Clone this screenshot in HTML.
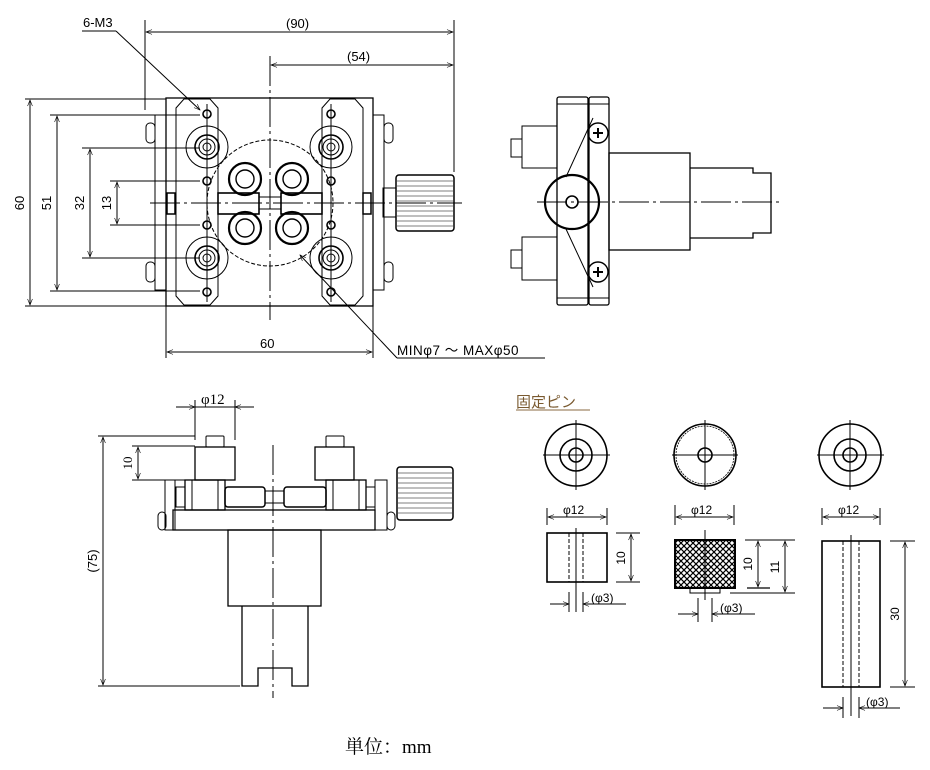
<!DOCTYPE html>
<html><head><meta charset="utf-8"><style>
html,body{margin:0;padding:0;background:#fff;}
svg{display:block;}
text{font-family:"Liberation Sans","Noto Sans CJK JP",sans-serif;fill:#000;}
</style></head><body>
<svg width="930" height="770" viewBox="0 0 930 770" xmlns="http://www.w3.org/2000/svg">
<defs>
<marker id="a" viewBox="0 0 10 10" refX="10" refY="5" markerWidth="10" markerHeight="6" orient="auto-start-reverse" markerUnits="userSpaceOnUse"><path d="M0,1 L10,5 L0,9" fill="none" stroke="#000" stroke-width="1"/></marker>
</defs>
<g fill="none" stroke="#000" stroke-width="1">
<line x1="145" y1="20" x2="145" y2="110"/>
<line x1="454" y1="20" x2="454" y2="172"/>
<line x1="146" y1="32" x2="453" y2="32" marker-start="url(#a)" marker-end="url(#a)"/>
<line x1="270" y1="56" x2="270" y2="320" stroke-dasharray="30 4 3 4"/>
<line x1="271" y1="65" x2="453" y2="65" marker-start="url(#a)" marker-end="url(#a)"/>
<line x1="82" y1="31" x2="116" y2="31"/>
<line x1="116" y1="31" x2="200" y2="110" marker-end="url(#a)"/>
<line x1="25" y1="99" x2="166" y2="99"/>
<line x1="25" y1="306" x2="166" y2="306"/>
<line x1="30" y1="100" x2="30" y2="305" marker-start="url(#a)" marker-end="url(#a)"/>
<line x1="50" y1="115" x2="200" y2="115"/>
<line x1="50" y1="291" x2="200" y2="291"/>
<line x1="57" y1="116" x2="57" y2="290" marker-start="url(#a)" marker-end="url(#a)"/>
<line x1="82" y1="148" x2="200" y2="148"/>
<line x1="82" y1="258" x2="200" y2="258"/>
<line x1="90" y1="149" x2="90" y2="257" marker-start="url(#a)" marker-end="url(#a)"/>
<line x1="110" y1="181" x2="200" y2="181"/>
<line x1="110" y1="225" x2="200" y2="225"/>
<line x1="117" y1="182" x2="117" y2="224" marker-start="url(#a)" marker-end="url(#a)"/>
<line x1="166" y1="306" x2="166" y2="358"/>
<line x1="373" y1="306" x2="373" y2="358"/>
<line x1="167" y1="352" x2="372" y2="352" marker-start="url(#a)" marker-end="url(#a)"/>
<line x1="397" y1="358" x2="545" y2="358"/>
<line x1="397" y1="358" x2="300" y2="255" marker-end="url(#a)"/>
<rect x="166" y="98" width="207" height="208" stroke-width="1.3"/>
<path d="M176,108 L184,99 L210,99 L218,108 L218,296 L210,305 L184,305 L176,296 Z"/>
<path d="M322,108 L330,99 L355,99 L363,108 L363,296 L355,305 L330,305 L322,296 Z"/>
<rect x="155" y="115" width="11" height="175"/>
<rect x="373" y="115" width="11" height="175"/>
<rect x="146" y="123" width="9" height="20" rx="4"/>
<rect x="146" y="262" width="9" height="20" rx="4"/>
<rect x="384" y="123" width="9" height="20" rx="4"/>
<rect x="384" y="262" width="9" height="20" rx="4"/>
<rect x="167" y="193" width="8" height="21" stroke-width="1.5"/>
<rect x="363" y="193" width="8" height="21" stroke-width="1.5"/>
<rect x="383" y="188" width="13" height="29"/>
<rect x="396" y="175" width="58" height="56" rx="3" stroke-width="1.5"/>
<path d="M397,181H453M397,186H453M397,191H453M397,196H453M397,201H453M397,206H453M397,211H453M397,216H453M397,221H453M397,226H453" stroke-width="0.7" stroke="#555"/>
<circle cx="270" cy="203" r="63" stroke-dasharray="4 2"/>
<line x1="150" y1="203" x2="462" y2="203" stroke-dasharray="30 4 3 4"/>
<rect x="218" y="193" width="41" height="21" stroke-width="1.6"/>
<rect x="281" y="193" width="41" height="21" stroke-width="1.6"/>
<rect x="259" y="197" width="22" height="12"/>
<g stroke-width="2.2">
<circle cx="245" cy="179" r="16"/><circle cx="292" cy="179" r="16"/>
<circle cx="245" cy="228" r="16"/><circle cx="292" cy="228" r="16"/>
</g>
<g stroke-width="1.4">
<circle cx="245" cy="179" r="9"/><circle cx="292" cy="179" r="9"/>
<circle cx="245" cy="228" r="9"/><circle cx="292" cy="228" r="9"/>
</g>
<g>
<circle cx="207" cy="147" r="21"/><circle cx="207" cy="147" r="12" stroke-width="1.6"/><circle cx="207" cy="147" r="8"/><circle cx="207" cy="147" r="4"/>
<circle cx="207" cy="258" r="21"/><circle cx="207" cy="258" r="12" stroke-width="1.6"/><circle cx="207" cy="258" r="8"/><circle cx="207" cy="258" r="4"/>
<circle cx="331" cy="147" r="21"/><circle cx="331" cy="147" r="12" stroke-width="1.6"/><circle cx="331" cy="147" r="8"/><circle cx="331" cy="147" r="4"/>
<circle cx="331" cy="258" r="21"/><circle cx="331" cy="258" r="12" stroke-width="1.6"/><circle cx="331" cy="258" r="8"/><circle cx="331" cy="258" r="4"/>
</g>
<g stroke-width="1.6">
<circle cx="207" cy="114" r="4"/><circle cx="207" cy="181" r="4"/><circle cx="207" cy="225" r="4"/><circle cx="207" cy="292" r="4"/>
<circle cx="331" cy="114" r="4"/><circle cx="331" cy="181" r="4"/><circle cx="331" cy="225" r="4"/><circle cx="331" cy="292" r="4"/>
</g>
<line x1="207" y1="104" x2="207" y2="302"/><line x1="331" y1="104" x2="331" y2="302"/>

<rect x="557" y="97" width="31" height="208" rx="2" stroke-width="1.3"/>
<rect x="589" y="97" width="20" height="208" rx="2" stroke-width="1.3"/>
<line x1="557" y1="104" x2="609" y2="104"/><line x1="557" y1="298" x2="609" y2="298"/>
<rect x="522" y="126" width="35" height="42"/>
<rect x="522" y="237" width="35" height="43"/>
<rect x="511" y="139" width="11" height="18"/>
<rect x="511" y="250" width="11" height="18"/>
<path d="M593,118 L566,177 M566,229 L593,287"/>
<rect x="609" y="153" width="81" height="97" stroke-width="1.3"/>
<path d="M690,168 L753,168 L753,173 L771,173 L771,233 L753,233 L753,238 L690,238" stroke-width="1.3"/>
<circle cx="572" cy="202" r="27" stroke-width="2.2"/>
<circle cx="572" cy="202" r="6" stroke-width="1.6"/>
<circle cx="598" cy="133" r="10" stroke-width="1.4"/>
<circle cx="598" cy="272" r="10" stroke-width="1.4"/>
<path d="M593,133H603M598,128V138M593,272H603M598,267V277" stroke-width="2"/>
<line x1="537" y1="202" x2="782" y2="202" stroke-dasharray="30 4 3 4"/>

<line x1="195" y1="400" x2="195" y2="440"/>
<line x1="235" y1="400" x2="235" y2="440"/>
<line x1="176" y1="407" x2="195" y2="407" marker-end="url(#a)"/>
<line x1="254" y1="407" x2="235" y2="407" marker-end="url(#a)"/>
<line x1="195" y1="407" x2="235" y2="407"/>
<line x1="98" y1="436" x2="195" y2="436"/>
<line x1="98" y1="686" x2="240" y2="686"/>
<line x1="103" y1="437" x2="103" y2="685" marker-start="url(#a)" marker-end="url(#a)"/>
<line x1="132" y1="446" x2="195" y2="446"/>
<line x1="132" y1="480" x2="195" y2="480"/>
<line x1="138" y1="447" x2="138" y2="479" marker-start="url(#a)" marker-end="url(#a)"/>
<rect x="206" y="436" width="18" height="11" rx="1"/>
<rect x="326" y="436" width="18" height="11" rx="1"/>
<rect x="195" y="447" width="40" height="33" stroke-width="1.3"/>
<rect x="315" y="447" width="39" height="33" stroke-width="1.3"/>
<rect x="185" y="480" width="40" height="30" stroke-width="1.3"/>
<rect x="326" y="480" width="40" height="30" stroke-width="1.3"/>
<line x1="192" y1="480" x2="192" y2="510"/><line x1="218" y1="480" x2="218" y2="510"/>
<line x1="333" y1="480" x2="333" y2="510"/><line x1="359" y1="480" x2="359" y2="510"/>
<rect x="176" y="487" width="9" height="20"/>
<rect x="366" y="487" width="9" height="20"/>
<rect x="225" y="487" width="40" height="20" rx="3" stroke-width="1.5"/>
<rect x="284" y="487" width="42" height="20" rx="3" stroke-width="1.5"/>
<rect x="265" y="491" width="19" height="12"/>
<rect x="173" y="510" width="202" height="20" stroke-width="1.3"/>
<rect x="165" y="480" width="10" height="50"/>
<rect x="375" y="480" width="12" height="50"/>
<rect x="158" y="512" width="8" height="18" rx="4"/>
<rect x="387" y="512" width="8" height="18" rx="4"/>
<rect x="397" y="467" width="56" height="53" rx="3" stroke-width="1.5"/>
<path d="M398,473H452M398,478H452M398,483H452M398,488H452M398,493H452M398,498H452M398,503H452M398,508H452M398,513H452" stroke-width="0.7" stroke="#555"/>
<rect x="228" y="530" width="93" height="76" stroke-width="1.3"/>
<path d="M242,606 L242,686 L258,686 L258,668 L292,668 L292,686 L308,686 L308,606" stroke-width="1.3"/>
<line x1="273" y1="445" x2="273" y2="698" stroke-dasharray="30 4 3 4"/>

<line x1="516" y1="410" x2="590" y2="410" stroke="#8a6a40"/>
<g stroke-width="1.6">
<circle cx="576" cy="455" r="31"/><circle cx="576" cy="455" r="16"/><circle cx="576" cy="455" r="7"/>
<circle cx="705" cy="455" r="31"/><circle cx="705" cy="455" r="29" stroke-width="0.8" stroke-dasharray="2 1"/><circle cx="705" cy="455" r="7"/>
<circle cx="850" cy="455" r="31"/><circle cx="850" cy="455" r="16"/><circle cx="850" cy="455" r="7"/>
</g>
<path d="M543,455H610M576,420V490M672,455H738M705,420V490M817,455H884M850,420V490"/>
<line x1="547" y1="508" x2="547" y2="525"/><line x1="607" y1="508" x2="607" y2="525"/>
<line x1="548" y1="517" x2="606" y2="517" marker-start="url(#a)" marker-end="url(#a)"/>
<rect x="547" y="533" width="60" height="49" stroke-width="1.6"/>
<path d="M569,533V582M583,533V582" stroke-dasharray="4 2"/>
<line x1="576" y1="528" x2="576" y2="612"/>
<line x1="616" y1="533" x2="640" y2="533"/><line x1="616" y1="582" x2="640" y2="582"/>
<line x1="631" y1="534" x2="631" y2="581" marker-start="url(#a)" marker-end="url(#a)"/>
<line x1="569" y1="592" x2="569" y2="612"/><line x1="583" y1="592" x2="583" y2="612"/>
<line x1="550" y1="604" x2="569" y2="604" marker-end="url(#a)"/>
<line x1="626" y1="604" x2="583" y2="604" marker-end="url(#a)"/>
<line x1="675" y1="505" x2="675" y2="525"/><line x1="734" y1="505" x2="734" y2="525"/>
<line x1="676" y1="517" x2="733" y2="517" marker-start="url(#a)" marker-end="url(#a)"/>
<rect x="690" y="588" width="30" height="5"/>
<line x1="745" y1="540" x2="795" y2="540"/><line x1="747" y1="588" x2="770" y2="588" stroke-width="1.3"/><line x1="730" y1="593" x2="795" y2="593"/>
<line x1="758" y1="541" x2="758" y2="587" marker-start="url(#a)" marker-end="url(#a)"/>
<line x1="785" y1="541" x2="785" y2="592" marker-start="url(#a)" marker-end="url(#a)"/>
<line x1="698" y1="598" x2="698" y2="622"/><line x1="712" y1="598" x2="712" y2="622"/>
<line x1="678" y1="614" x2="698" y2="614" marker-end="url(#a)"/>
<line x1="755" y1="614" x2="712" y2="614" marker-end="url(#a)"/>
<line x1="822" y1="508" x2="822" y2="525"/><line x1="880" y1="508" x2="880" y2="525"/>
<line x1="823" y1="517" x2="879" y2="517" marker-start="url(#a)" marker-end="url(#a)"/>
<rect x="822" y="541" width="58" height="146" stroke-width="1.6"/>
<path d="M843,541V687M859,541V687" stroke-dasharray="4 2"/>
<line x1="851" y1="535" x2="851" y2="716"/>
<line x1="890" y1="541" x2="915" y2="541"/><line x1="890" y1="687" x2="915" y2="687"/>
<line x1="905" y1="542" x2="905" y2="686" marker-start="url(#a)" marker-end="url(#a)"/>
<line x1="843" y1="697" x2="843" y2="718"/><line x1="859" y1="697" x2="859" y2="718"/>
<line x1="823" y1="708" x2="843" y2="708" marker-end="url(#a)"/>
<line x1="900" y1="708" x2="859" y2="708" marker-end="url(#a)"/>
</g>
<defs><pattern id="h" width="6" height="6" patternUnits="userSpaceOnUse"><path d="M0,0L6,6M6,0L0,6" stroke="#000" stroke-width="1.2"/></pattern></defs>
<rect x="675" y="540" width="60" height="48" fill="url(#h)" stroke="#000" stroke-width="2"/>
<line x1="705" y1="530" x2="705" y2="600" stroke="#000"/>

<g font-size="13">
<text x="83" y="27">6-M3</text>
<text x="286" y="28">(90)</text>
<text x="347" y="61">(54)</text>
<text x="260" y="348">60</text>
<text x="397" y="355" font-size="13.5" letter-spacing="0.5">MINφ7 ～ MAXφ50</text>
<text transform="translate(24,203) rotate(-90)" text-anchor="middle">60</text>
<text transform="translate(51,203) rotate(-90)" text-anchor="middle">51</text>
<text transform="translate(84,203) rotate(-90)" text-anchor="middle">32</text>
<text transform="translate(111,203) rotate(-90)" text-anchor="middle">13</text>
<text x="201" y="404" style="font-family:'Liberation Serif',serif;font-size:15px">φ12</text>
<text transform="translate(132,463) rotate(-90)" text-anchor="middle" style="font-family:'Liberation Serif',serif">10</text>
<text transform="translate(97,561) rotate(-90)" text-anchor="middle">(75)</text>
<text x="516" y="407" font-size="15" style="fill:#7a5a30">固定ピン</text>
<text x="563" y="514" font-size="12">φ12</text>
<text x="691" y="514" font-size="12">φ12</text>
<text x="838" y="514" font-size="12">φ12</text>
<text transform="translate(625,558) rotate(-90)" text-anchor="middle" font-size="12">10</text>
<text transform="translate(752,564) rotate(-90)" text-anchor="middle" font-size="12">10</text>
<text transform="translate(779,567) rotate(-90)" text-anchor="middle" font-size="12">11</text>
<text transform="translate(899,614) rotate(-90)" text-anchor="middle" font-size="12">30</text>
<text x="591" y="602" font-size="12">(φ3)</text>
<text x="720" y="612" font-size="12">(φ3)</text>
<text x="866" y="706" font-size="12">(φ3)</text>
</g>
<text x="345" y="753" style="font-family:'Liberation Serif','Noto Serif CJK SC',serif;font-size:19px">単位：mm</text>
</svg>
</body></html>
